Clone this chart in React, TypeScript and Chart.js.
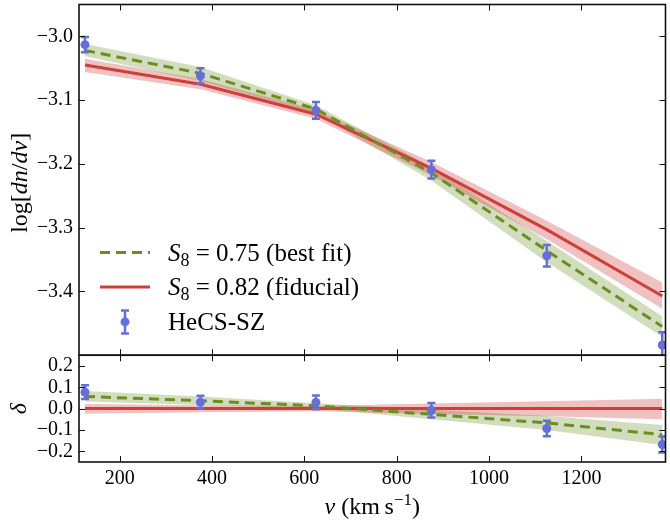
import React, { useEffect, useRef } from 'react';
import { Chart, registerables } from 'chart.js';

Chart.register(...registerables);

// ---------- data ----------
const velocity = [125, 375, 625, 875, 1125, 1375];
const xTicks = [200, 400, 600, 800, 1000, 1200];
const topTicks = [-3.4, -3.3, -3.2, -3.1, -3.0];
const bottomTicks = [-0.2, -0.1, 0.0, 0.1, 0.2];

const hecsLog = [-3.013, -3.062, -3.116, -3.209, -3.344, -3.484];
const hecsLogErr = [0.012, 0.012, 0.013, 0.014, 0.017, 0.02];
const bestFitLog = [-3.022, -3.058, -3.114, -3.214, -3.336, -3.455];
const bestFitLogHi = [-3.012, -3.048, -3.108, -3.205, -3.321, -3.439];
const bestFitLogLo = [-3.031, -3.07, -3.121, -3.226, -3.354, -3.471];
const fiducialLog = [-3.045, -3.075, -3.122, -3.207, -3.303, -3.407];
const fiducialLogHi = [-3.035, -3.067, -3.115, -3.197, -3.289, -3.386];
const fiducialLogLo = [-3.056, -3.083, -3.129, -3.218, -3.318, -3.427];

const hecsDelta = [0.077, 0.03, 0.029, -0.008, -0.093, -0.168];
const hecsDeltaErr = [0.032, 0.03, 0.032, 0.034, 0.036, 0.038];
const bestFitDelta = [0.057, 0.037, 0.013, -0.027, -0.067, -0.122];
const bestFitDeltaHi = [0.083, 0.057, 0.025, -0.005, -0.035, -0.077];
const bestFitDeltaLo = [0.033, 0.017, 0.001, -0.05, -0.1, -0.17];
const fiducialDelta = [0, 0, 0, 0, 0, 0];
const fiducialDeltaHi = [0.022, 0.016, 0.012, 0.024, 0.034, 0.046];
const fiducialDeltaLo = [-0.024, -0.017, -0.012, -0.025, -0.036, -0.05];

const legendLabels = [
  { value: '0.75', note: '(best fit)' },
  { value: '0.82', note: '(fiducial)' },
];
const dataLabel = 'HeCS-SZ';

// ---------- styles ----------
const GREEN = '#6b8e23';
const GREEN_BAND = 'rgba(107,142,35,0.3)';
const RED = '#cf3f3a';
const RED_BAND = 'rgba(204,51,51,0.3)';
const BLUE = '#656fd8';
const SERIF = '"Liberation Serif", "DejaVu Serif", serif';

type Part = { t: string; font: string; dy?: number };

function richWidth(ctx: CanvasRenderingContext2D, parts: Part[]) {
  let w = 0;
  for (const p of parts) {
    ctx.font = p.font;
    w += ctx.measureText(p.t).width;
  }
  return w;
}

function drawRich(ctx: CanvasRenderingContext2D, x: number, y: number, parts: Part[]) {
  let cx = x;
  for (const p of parts) {
    ctx.font = p.font;
    ctx.fillText(p.t, cx, y + (p.dy || 0));
    cx += ctx.measureText(p.t).width;
  }
  return cx - x;
}

function drawErrorBars(
  ctx: CanvasRenderingContext2D,
  chart: any,
  yScaleId: string,
  values: number[],
  errs: number[]
) {
  const xs = chart.scales.x;
  const ys = chart.scales[yScaleId];
  ctx.save();
  ctx.beginPath();
  ctx.rect(xs.left, ys.top, xs.right - xs.left, ys.bottom - ys.top);
  ctx.clip();
  ctx.strokeStyle = BLUE;
  ctx.lineWidth = 2.5;
  for (let i = 0; i < velocity.length; i++) {
    const px = xs.getPixelForValue(velocity[i]);
    const hi = ys.getPixelForValue(values[i] + errs[i]);
    const lo = ys.getPixelForValue(values[i] - errs[i]);
    ctx.beginPath();
    ctx.moveTo(px, hi);
    ctx.lineTo(px, lo);
    ctx.moveTo(px - 4, hi);
    ctx.lineTo(px + 4, hi);
    ctx.moveTo(px - 4, lo);
    ctx.lineTo(px + 4, lo);
    ctx.stroke();
  }
  ctx.restore();
}

const decorPlugin = {
  id: 'decor',
  afterDatasetsDraw(chart: any) {
    const ctx = chart.ctx as CanvasRenderingContext2D;
    drawErrorBars(ctx, chart, 'y', hecsLog, hecsLogErr);
    drawErrorBars(ctx, chart, 'y2', hecsDelta, hecsDeltaErr);
  },
  afterDraw(chart: any) {
    const ctx = chart.ctx as CanvasRenderingContext2D;
    const xs = chart.scales.x;
    const yTop = chart.scales.y;
    const yBot = chart.scales.y2;
    const panels = [
      { s: yTop, ticks: topTicks },
      { s: yBot, ticks: bottomTicks },
    ];
    ctx.save();
    ctx.strokeStyle = '#111';
    ctx.lineWidth = 1;
    const T = 6;
    for (const p of panels) {
      ctx.beginPath();
      for (const v of p.ticks) {
        const py = Math.round(p.s.getPixelForValue(v)) + 0.5;
        ctx.moveTo(xs.left, py);
        ctx.lineTo(xs.left + T, py);
        ctx.moveTo(xs.right, py);
        ctx.lineTo(xs.right - T, py);
      }
      for (const v of xTicks) {
        const px = Math.round(xs.getPixelForValue(v)) + 0.5;
        ctx.moveTo(px, p.s.top);
        ctx.lineTo(px, p.s.top + T);
        ctx.moveTo(px, p.s.bottom);
        ctx.lineTo(px, p.s.bottom - T);
      }
      ctx.stroke();
    }
    ctx.lineWidth = 1.6;
    for (const p of panels) {
      ctx.strokeRect(xs.left, p.s.top, xs.right - xs.left, p.s.bottom - p.s.top);
    }
    ctx.restore();

    ctx.save();
    ctx.fillStyle = '#000';
    // x tick labels
    ctx.font = `20px ${SERIF}`;
    ctx.textAlign = 'center';
    ctx.textBaseline = 'alphabetic';
    for (const v of xTicks) {
      ctx.fillText(String(v), xs.getPixelForValue(v), yBot.bottom + 22);
    }
    ctx.textAlign = 'left';

    // axis titles
    const big = 24;
    const reg = `${big}px ${SERIF}`;
    const ita = `italic ${big}px ${SERIF}`;
    const xParts: Part[] = [
      { t: 'v', font: ita },
      { t: ' (km\u2009s', font: reg },
      { t: '\u22121', font: `${Math.round(big * 0.7)}px ${SERIF}`, dy: -9 },
      { t: ')', font: reg },
    ];
    const xw = richWidth(ctx, xParts);
    drawRich(ctx, (xs.left + xs.right) / 2 - xw / 2, yBot.bottom + 52, xParts);

    const yParts: Part[] = [
      { t: 'log[', font: reg },
      { t: 'dn', font: ita },
      { t: '/', font: reg },
      { t: 'dv', font: ita },
      { t: ']', font: reg },
    ];
    const yw = richWidth(ctx, yParts);
    ctx.save();
    ctx.translate(27, (yTop.top + yTop.bottom) / 2 + 3);
    ctx.rotate(-Math.PI / 2);
    drawRich(ctx, -yw / 2, 0, yParts);
    ctx.restore();

    const dParts: Part[] = [{ t: '\u03b4', font: ita }];
    const dw = richWidth(ctx, dParts);
    ctx.save();
    ctx.translate(26, (yBot.top + yBot.bottom) / 2);
    ctx.rotate(-Math.PI / 2);
    drawRich(ctx, -dw / 2, 0, dParts);
    ctx.restore();

    // legend
    const lsz = 25;
    const lreg = `${lsz}px ${SERIF}`;
    const lita = `italic ${lsz}px ${SERIF}`;
    const lsub = `${Math.round(lsz * 0.7)}px ${SERIF}`;
    const rows = [yTop.bottom - 102.7, yTop.bottom - 68.3, yTop.bottom - 33.3];
    const x0 = xs.left + 21;
    const x1 = xs.left + 71;
    const tx = xs.left + 89;
    ctx.save();
    ctx.strokeStyle = GREEN;
    ctx.lineWidth = 3;
    ctx.setLineDash([10, 6]);
    ctx.beginPath();
    ctx.moveTo(x0, rows[0]);
    ctx.lineTo(x1, rows[0]);
    ctx.stroke();
    ctx.setLineDash([]);
    ctx.strokeStyle = RED;
    ctx.beginPath();
    ctx.moveTo(x0, rows[1]);
    ctx.lineTo(x1, rows[1]);
    ctx.stroke();
    const mx = (x0 + x1) / 2;
    ctx.strokeStyle = BLUE;
    ctx.fillStyle = BLUE;
    ctx.lineWidth = 2.5;
    ctx.beginPath();
    ctx.moveTo(mx, rows[2] - 11.5);
    ctx.lineTo(mx, rows[2] + 11.5);
    ctx.moveTo(mx - 4, rows[2] - 11.5);
    ctx.lineTo(mx + 4, rows[2] - 11.5);
    ctx.moveTo(mx - 4, rows[2] + 11.5);
    ctx.lineTo(mx + 4, rows[2] + 11.5);
    ctx.stroke();
    ctx.beginPath();
    ctx.arc(mx, rows[2], 4.5, 0, Math.PI * 2);
    ctx.fill();
    ctx.restore();

    ctx.fillStyle = '#000';
    for (let i = 0; i < legendLabels.length; i++) {
      const base = rows[i] + 8;
      drawRich(ctx, tx, base, [
        { t: 'S', font: lita },
        { t: '8', font: lsub, dy: 5 },
        { t: ' = ' + legendLabels[i].value + ' ', font: lreg },
        { t: legendLabels[i].note, font: lreg },
      ]);
    }
    drawRich(ctx, tx, rows[2] + 8, [{ t: dataLabel, font: lreg }]);
    ctx.restore();
  },
};

const fmt = (v: any) => {
  const n = Number(v);
  return (n < -1e-9 ? '\u2212' : '') + Math.abs(n).toFixed(1);
};

export default function App() {
  const ref = useRef<HTMLCanvasElement>(null);
  useEffect(() => {
    const canvas = ref.current!;
    const pts = (ys: number[]) => velocity.map((x, i) => ({ x, y: ys[i] }));
    const line = (ys: number[], yAxisID: string, color: string, dash: number[]) => ({
      data: pts(ys),
      yAxisID,
      borderColor: color,
      borderWidth: 3,
      borderDash: dash,
      pointRadius: 0,
      fill: false,
      tension: 0,
    });
    const bandHi = (ys: number[], yAxisID: string) => ({
      data: pts(ys),
      yAxisID,
      borderWidth: 0,
      borderColor: 'rgba(0,0,0,0)',
      pointRadius: 0,
      fill: false,
      tension: 0,
    });
    const bandLo = (ys: number[], yAxisID: string, color: string) => ({
      data: pts(ys),
      yAxisID,
      borderWidth: 0,
      borderColor: 'rgba(0,0,0,0)',
      backgroundColor: color,
      pointRadius: 0,
      fill: '-1',
      tension: 0,
    });
    const points = (ys: number[], yAxisID: string) => ({
      data: pts(ys),
      yAxisID,
      showLine: false,
      pointRadius: 4.5,
      pointBackgroundColor: BLUE,
      pointBorderWidth: 0,
      pointBorderColor: BLUE,
      fill: false,
    });
    const tickFont = { family: SERIF, size: 20 };
    const yFit = (s: any) => {
      s.width = 79;
      s.paddingTop = 0;
      s.paddingBottom = 0;
    };
    const chart = new Chart(canvas, {
      type: 'line',
      data: {
        datasets: [
          points(hecsLog, 'y'),
          points(hecsDelta, 'y2'),
          line(bestFitLog, 'y', GREEN, [10, 6]),
          line(fiducialLog, 'y', RED, []),
          line(bestFitDelta, 'y2', GREEN, [10, 6]),
          line(fiducialDelta, 'y2', RED, []),
          bandHi(fiducialLogHi, 'y'),
          bandLo(fiducialLogLo, 'y', RED_BAND),
          bandHi(bestFitLogHi, 'y'),
          bandLo(bestFitLogLo, 'y', GREEN_BAND),
          bandHi(fiducialDeltaHi, 'y2'),
          bandLo(fiducialDeltaLo, 'y2', RED_BAND),
          bandHi(bestFitDeltaHi, 'y2'),
          bandLo(bestFitDeltaLo, 'y2', GREEN_BAND),
        ] as any,
      },
      options: {
        animation: false,
        responsive: false,
        devicePixelRatio: 1,
        events: [],
        layout: { padding: { top: 3, right: 2, left: 0, bottom: 0 } },
        plugins: {
          legend: { display: false },
          tooltip: { enabled: false },
          title: { display: false },
        },
        scales: {
          x: {
            type: 'linear',
            min: 112,
            max: 1382,
            grid: { display: false, drawTicks: false },
            border: { display: false },
            afterBuildTicks: (s: any) => {
              s.ticks = xTicks.map((v) => ({ value: v }));
            },
            afterFit: (s: any) => {
              s.height = 61;
              s.paddingLeft = 0;
              s.paddingRight = 0;
            },
            ticks: { display: false },
          },
          y2: {
            type: 'linear',
            position: 'left',
            stack: 'panels',
            stackWeight: 107,
            min: -0.25,
            max: 0.25,
            grid: { display: false, drawTicks: false },
            border: { display: false },
            afterBuildTicks: (s: any) => {
              s.ticks = bottomTicks.map((v) => ({ value: v }));
            },
            afterFit: yFit,
            ticks: { font: tickFont, color: '#000', padding: 6, autoSkip: false, callback: fmt },
          },
          y: {
            type: 'linear',
            position: 'left',
            stack: 'panels',
            stackWeight: 351.5,
            min: -3.5,
            max: -2.95,
            grid: { display: false, drawTicks: false },
            border: { display: false },
            afterBuildTicks: (s: any) => {
              s.ticks = topTicks.map((v) => ({ value: v }));
            },
            afterFit: yFit,
            ticks: { font: tickFont, color: '#000', padding: 6, autoSkip: false, callback: fmt },
          },
        } as any,
      },
      plugins: [decorPlugin as any],
    });
    return () => chart.destroy();
  }, []);
  return (
    <div
      style={{
        position: 'fixed',
        left: 0,
        top: 0,
        width: 670,
        height: 523,
        background: '#fff',
      }}
    >
      <canvas ref={ref} width={670} height={523} style={{ display: 'block', width: 670, height: 523 }} />
    </div>
  );
}
